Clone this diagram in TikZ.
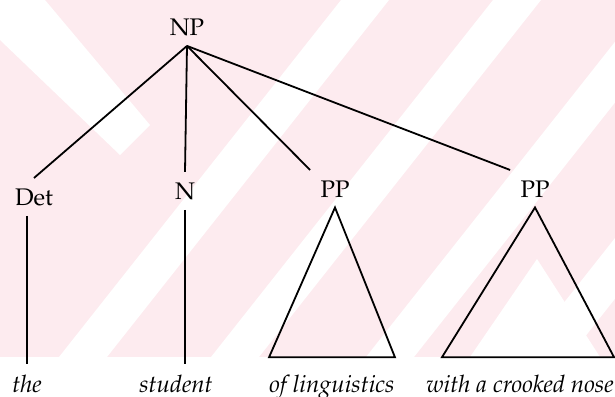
\documentclass[tikz,border=0pt]{standalone}
\usepackage[T1]{fontenc}
\usepackage{mathpazo}
\usepackage{xcolor}
\usepackage{tikz}
\usetikzlibrary{positioning, calc}

\definecolor{markpink}{RGB}{253,235,239}

\begin{document}
\begin{tikzpicture}[x=0.5pt,y=-0.5pt,
    cat/.style={inner sep=5pt, font=\fontsize{12}{14}\selectfont},
    word/.style={inner xsep=0pt, inner ysep=5pt, font=\fontsize{12}{14}\selectfont\itshape},
    branch/.style={line width=0.9pt}]
    \useasboundingbox (0,0) rectangle (615,396);
    % background marks of the scan
    \fill[markpink] (0,0) rectangle (615,357);
    \foreach \x in {83,235,390,545,700}
        \fill[white] (\x-24,357) -- (\x+24,357) -- (\x+306,0) -- (\x+258,0) -- cycle;
    \fill[white] (0,0) -- (45,0) -- (150,125) -- (120,155) -- (0,40) -- cycle;
    \fill[white] (537,259) -- (600,357) -- (470,357) -- cycle;
    % categories
    \node[cat, anchor=base] (np)  at (187,35)  {NP};
    \node[cat, anchor=base] (det) at (34,205)  {Det};
    \node[cat, anchor=base] (n)   at (185,199) {N};
    \node[cat, anchor=base] (pp1) at (335,197) {PP};
    \node[cat, anchor=base] (pp2) at (535,197) {PP};
    % words
    \node[word, anchor=base] (the)  at (27,392)  {the};
    \node[word, anchor=base] (stud) at (176,392) {student};
    \node[word, anchor=base] (ling) at (332,392) {of linguistics};
    \node[word, anchor=base] (nose) at (520,392) {with a crooked nose};
    % branches
    \draw[branch] (np.south) -- (det.north);
    \draw[branch] (np.south) -- (n.north);
    \draw[branch] (np.south) -- (pp1.north west);
    \draw[branch] (np.south) -- (pp2.north west);
    \draw[branch] (the |- det.south) -- (the.north);
    \draw[branch] (n.south) -- (n.south |- stud.north);
    \draw[branch] (pp1.south) -- ([yshift=3.5pt]ling.north east) -- ([yshift=3.5pt]ling.north west) -- cycle;
    \draw[branch] (pp2.south) -- ([yshift=3.5pt]nose.north east) -- ([xshift=8pt,yshift=3.5pt]nose.north west) -- cycle;
\end{tikzpicture}
\end{document}
